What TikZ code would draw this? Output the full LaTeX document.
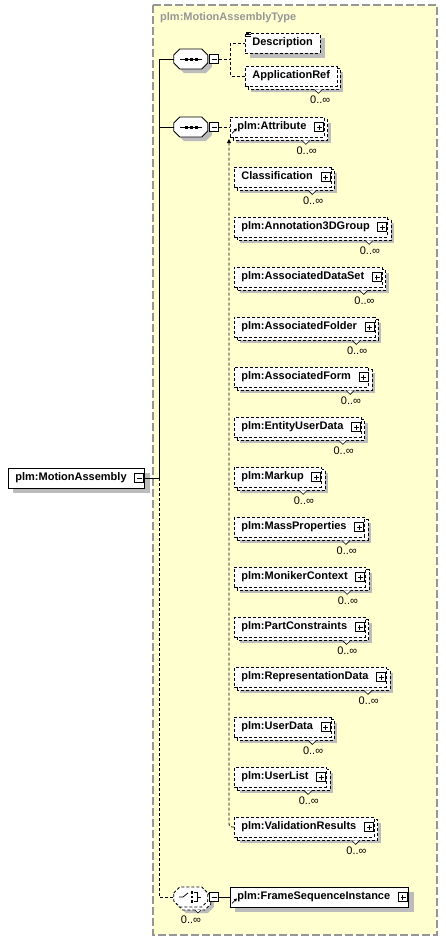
\documentclass[tikz,border=0pt]{standalone}
\usepackage{fontspec}
\setmainfont{Liberation Sans}
\usepackage{tikz}
\usetikzlibrary{arrows.meta, positioning, calc}

\definecolor{paneyellow}{RGB}{255,255,208}
\definecolor{panegray}{RGB}{150,150,150}
\definecolor{shadegray}{RGB}{188,188,188}

\pgfdeclarelayer{panel}
\pgfdeclarelayer{shade}
\pgfsetlayers{panel,shade,main}

% outline of a compositor, started at its west anchor
\newcommand{\octpath}{++(0pt,4pt) -- ++(6pt,6pt) -- ++(22pt,0pt) -- ++(6pt,-6pt) -- ++(0pt,-8pt) -- ++(-6pt,-6pt) -- ++(-22pt,0pt) -- ++(-6pt,6pt) -- cycle}

\begin{document}
\begin{tikzpicture}[
    x=1pt, y=-1pt,
    % schema boxes
    every node/.style={font=\fontsize{11}{13}\selectfont},
    elem/.style={draw, fill=white, dash pattern=on 3pt off 2pt, line width=0.8pt, font=\fontsize{11}{13}\selectfont\bfseries,
        minimum height=20pt, inner xsep=7pt, inner ysep=0pt, text height=8pt, text depth=2.5pt},
    multi/.style={append after command={\pgfextra{
        \path[draw=black, fill=white, solid, line width=0.6pt]
            ([xshift=-23pt, yshift=-3pt]\tikzlastnode.south east) -- ++(4pt,-4pt) -- ++(4pt,4pt);}}},
    copyframe/.style={draw=black, fill=white, line width=0.8pt, dash pattern=on 3pt off 2pt},
    expand/.style={execute at end node={\hspace{11pt}},
        path picture={\draw[solid, line width=0.6pt, fill=white]
            ([xshift=-10pt, yshift=-4.5pt]path picture bounding box.east) rectangle ++(9pt,9pt);
          \draw[solid, line width=0.6pt]
            ([xshift=-7.5pt]path picture bounding box.east) -- ++(5pt,0pt)
            ([xshift=-5.5pt, yshift=-2.5pt]path picture bounding box.east) -- ++(0pt,5pt);}},
    collapse/.style={execute at end node={\hspace{11pt}},
        path picture={\draw[solid, line width=0.6pt, fill=white]
            ([xshift=-10pt, yshift=-4.5pt]path picture bounding box.east) rectangle ++(9pt,9pt);
          \draw[solid, line width=0.6pt]
            ([xshift=-7.5pt]path picture bounding box.east) -- ++(5pt,0pt);}},
    % compositors (the node only holds the anchors, the outline is drawn after it)
    compositor/.style={rectangle, minimum width=34pt, minimum height=20pt, inner sep=0pt},
    seq/.style={compositor, append after command={\pgfextra{
        \fill[shadegray] ([shift={(4pt,-4pt)}]\tikzlastnode.west) \octpath;
        \draw[line width=0.8pt, fill=white] (\tikzlastnode.west) \octpath;
        \draw[line width=0.8pt] ([xshift=-11pt]\tikzlastnode.center) -- ([xshift=11pt]\tikzlastnode.center);
        \fill ([xshift=-5pt]\tikzlastnode.center) ++(-1.5pt,-1.5pt) rectangle ++(3pt,3pt);
        \fill (\tikzlastnode.center) ++(-1.5pt,-1.5pt) rectangle ++(3pt,3pt);
        \fill ([xshift=5pt]\tikzlastnode.center) ++(-1.5pt,-1.5pt) rectangle ++(3pt,3pt);}}},
    choice/.style={compositor, append after command={\pgfextra{
        \fill[shadegray] ([shift={(6pt,-6pt)}]\tikzlastnode.west) \octpath;
        \draw[line width=0.8pt, fill=white, dash pattern=on 3pt off 2pt] ([shift={(3pt,-3pt)}]\tikzlastnode.west) \octpath;
        \draw[line width=0.8pt, fill=white, dash pattern=on 3pt off 2pt] (\tikzlastnode.west) \octpath;
        \draw[line width=0.6pt, fill=white] ([xshift=4pt, yshift=-13pt]\tikzlastnode.center) -- ++(3pt,-3pt) -- ++(3pt,3pt);
        \draw[line width=0.8pt] ([xshift=-12pt]\tikzlastnode.center) -- ++(4pt,0pt) -- ++(5pt,4pt);
        \fill ([xshift=1pt]\tikzlastnode.center) ++(-1.3pt,-1.3pt) rectangle ++(2.6pt,2.6pt);
        \fill ([xshift=1pt, yshift=4.5pt]\tikzlastnode.center) ++(-1.3pt,-1.3pt) rectangle ++(2.6pt,2.6pt);
        \fill ([xshift=1pt, yshift=-4.5pt]\tikzlastnode.center) ++(-1.3pt,-1.3pt) rectangle ++(2.6pt,2.6pt);
        \draw[line width=0.8pt] ([xshift=3pt, yshift=4.5pt]\tikzlastnode.center) -- ++(3pt,0pt) -- ++(0pt,-9pt) -- ++(-3pt,0pt)
            ([xshift=6pt]\tikzlastnode.center) -- ++(4pt,0pt);}}},
    btnminus/.style={draw, solid, fill=white, line width=0.6pt, minimum size=9pt, inner sep=0pt,
        path picture={\draw[line width=0.6pt] ([xshift=2pt]path picture bounding box.west) -- ([xshift=-2pt]path picture bounding box.east);}},
    % connectors and labels
    link/.style={line width=0.8pt},
    optlink/.style={line width=0.8pt, dash pattern=on 3pt off 2pt},
    refarrow/.style={line width=0.8pt, -{Triangle[length=3pt, width=3pt]}},
    mult/.style={inner sep=0pt, font=\fontsize{11}{13}\selectfont},
    title/.style={font=\fontsize{11}{13}\selectfont\bfseries, text=panegray, inner sep=0pt},
    panelbox/.style={draw=panegray, fill=paneyellow, line width=1.2pt, dash pattern=on 8pt off 3pt}
]
    \useasboundingbox (0,0) rectangle (446,940);

    % --- complex type panel ---
    \begin{pgfonlayer}{panel}
        \draw[panelbox] (153,5) rectangle (437,935);
    \end{pgfonlayer}
    \node[title, anchor=west] (typename) at (160,18) {plm:MotionAssemblyType};

    % --- root element ---
    \node[elem, solid, collapse, anchor=west] (root) at (8,478) {plm:MotionAssembly};
    \coordinate (trunk) at (159,478);

    % --- first sequence ---
    \node[seq] (seqa) at (191,59) {};
    \node[btnminus, right=1pt of seqa] (seqabtn) {};
    \node[elem, anchor=west] (desc) at (245,43) {Description};
    \node[elem, multi, anchor=west] (appref) at (245,76) {ApplicationRef};

    % --- second sequence, substitution members ---
    \node[seq] (seqb) at (191,127) {};
    \node[btnminus, right=1pt of seqb] (seqbbtn) {};
    \node[elem, multi, expand, anchor=west] (attr) at (230,127) {plm:Attribute};
    \node[elem, multi, expand, below=50pt of attr.west, anchor=west, xshift=4pt] (cls) {Classification};
    \node[elem, multi, expand, below=50pt of cls.west, anchor=west] (annot) {plm:Annotation3DGroup};
    \node[elem, multi, expand, below=50pt of annot.west, anchor=west] (dataset) {plm:AssociatedDataSet};
    \node[elem, multi, expand, below=50pt of dataset.west, anchor=west] (folder) {plm:AssociatedFolder};
    \node[elem, multi, expand, below=50pt of folder.west, anchor=west] (form) {plm:AssociatedForm};
    \node[elem, multi, expand, below=50pt of form.west, anchor=west] (entity) {plm:EntityUserData};
    \node[elem, multi, expand, below=50pt of entity.west, anchor=west] (markup) {plm:Markup};
    \node[elem, multi, expand, below=50pt of markup.west, anchor=west] (mass) {plm:MassProperties};
    \node[elem, multi, expand, below=50pt of mass.west, anchor=west] (moniker) {plm:MonikerContext};
    \node[elem, multi, expand, below=50pt of moniker.west, anchor=west] (parts) {plm:PartConstraints};
    \node[elem, multi, expand, below=50pt of parts.west, anchor=west] (repr) {plm:RepresentationData};
    \node[elem, multi, expand, below=50pt of repr.west, anchor=west] (udata) {plm:UserData};
    \node[elem, multi, expand, below=50pt of udata.west, anchor=west] (ulist) {plm:UserList};
    \node[elem, multi, expand, below=50pt of ulist.west, anchor=west] (valres) {plm:ValidationResults};

    % --- choice ---
    \node[choice] (chc) at (191,897) {};
    \node[btnminus, right=1pt of chc] (chcbtn) {};
    \node[elem, solid, expand, anchor=west] (fsi) at (230,897) {plm:FrameSequenceInstance};

    % --- shadows and stacked copies behind the boxes ---
    \begin{pgfonlayer}{shade}
        \foreach \elname in {root, desc, fsi}
            \fill[shadegray] ([shift={(5pt,-5pt)}]\elname.south west) rectangle ([shift={(5pt,-5pt)}]\elname.north east);
        \foreach \elname in {appref, attr, cls, annot, dataset, folder, form, entity, markup, mass, moniker, parts, repr, udata, ulist, valres} {
            \fill[shadegray] ([shift={(6pt,-6pt)}]\elname.south west) rectangle ([shift={(6pt,-6pt)}]\elname.north east);
            \draw[copyframe] ([shift={(3pt,-3pt)}]\elname.south west) rectangle ([shift={(3pt,-3pt)}]\elname.north east);
        }
    \end{pgfonlayer}

    % --- occurrences ---
    \node[mult, below left=9pt and 7pt of appref.south east] (apprefm) {0..∞};
    \node[mult, below left=9pt and 8pt of attr.south east] (attrm) {0..∞};
    \node[mult, below left=9pt and 8pt of cls.south east] (clsm) {0..∞};
    \node[mult, below left=9pt and 8pt of annot.south east] (annotm) {0..∞};
    \node[mult, below left=9pt and 8pt of dataset.south east] (datasetm) {0..∞};
    \node[mult, below left=9pt and 8pt of folder.south east] (folderm) {0..∞};
    \node[mult, below left=9pt and 8pt of form.south east] (formm) {0..∞};
    \node[mult, below left=9pt and 8pt of entity.south east] (entitym) {0..∞};
    \node[mult, below left=9pt and 8pt of markup.south east] (markupm) {0..∞};
    \node[mult, below left=9pt and 8pt of mass.south east] (massm) {0..∞};
    \node[mult, below left=9pt and 8pt of moniker.south east] (monikerm) {0..∞};
    \node[mult, below left=9pt and 8pt of parts.south east] (partsm) {0..∞};
    \node[mult, below left=9pt and 8pt of repr.south east] (reprm) {0..∞};
    \node[mult, below left=9pt and 8pt of udata.south east] (udatam) {0..∞};
    \node[mult, below left=9pt and 8pt of ulist.south east] (ulistm) {0..∞};
    \node[mult, below left=9pt and 8pt of valres.south east] (valresm) {0..∞};
    \node[mult, below=8pt of chc.south] (chcm) {0..∞};

    % --- connectors ---
    \draw[link] (root.east) -- (trunk);
    \draw[link] (seqa.west) -| (trunk);
    \draw[link] (seqb.west) -- (seqb.west -| trunk);
    \draw[optlink] (trunk) |- (chc.west);
    \draw[optlink] (seqabtn.east) -- ++(12,0) |- (desc.west);
    \draw[optlink] (seqabtn.east) -- ++(12,0) |- (appref.west);
    \draw[optlink] (seqbbtn.east) -- (attr.west);
    \draw[link] (chcbtn.east) -- (fsi.west);
    \coordinate (subhead) at (229,139);
    \draw[optlink, rounded corners=3pt, -{Triangle[length=4pt, width=4pt]}] (valres.west) -| (subhead);

    % small marks
    \draw[line width=0.6pt] ([xshift=1pt]desc.north west) -- ++(5pt,0pt)
        ([xshift=1pt, yshift=-2pt]desc.north west) -- ++(5pt,0pt)
        ([xshift=1pt, yshift=-4pt]desc.north west) -- ++(5pt,0pt);
    \draw[refarrow] ([xshift=2pt, yshift=4pt]attr.south west) -- ++(5pt,5pt);
    \draw[refarrow] ([xshift=2pt, yshift=4pt]fsi.south west) -- ++(5pt,5pt);
\end{tikzpicture}
\end{document}
